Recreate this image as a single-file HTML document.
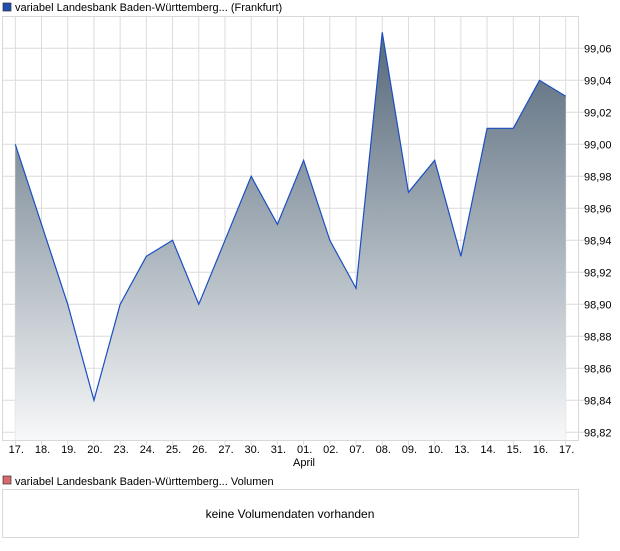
<!DOCTYPE html>
<html><head><meta charset="utf-8"><style>
body{margin:0;background:#fff;width:620px;height:546px;overflow:hidden;font-family:"Liberation Sans",sans-serif;}
</style></head><body>
<svg width="620" height="546" xmlns="http://www.w3.org/2000/svg" font-family="Liberation Sans, sans-serif" font-size="11">
<defs><linearGradient id="g" x1="0" y1="0" x2="0" y2="1" gradientUnits="objectBoundingBox">
<stop offset="0" stop-color="#56687a"/><stop offset="0.5" stop-color="#a6b0b9"/><stop offset="1" stop-color="#f7f8f9"/></linearGradient></defs>
<rect x="3" y="3" width="8" height="8" fill="#1f4fb0" stroke="#333" stroke-width="0.7"/>
<text x="15" y="11">variabel Landesbank Baden-Württemberg... (Frankfurt)</text>
<g id="grid" stroke="#dcdcdc" stroke-width="1"></g>
<rect x="2.5" y="16.5" width="576" height="424" fill="none" stroke="#d8d8d8"/>
<path id="area" fill="url(#g)"/>
<polyline id="line" fill="none" stroke="#1a4fc0" stroke-width="1.2"/>
<g id="yl" fill="#000"></g>
<g id="xl" fill="#000" text-anchor="middle"></g>
<text x="304" y="466" text-anchor="middle">April</text>
<rect x="3" y="476" width="8" height="8" fill="#d96b6b" stroke="#333" stroke-width="0.7"/>
<text x="15" y="485">variabel Landesbank Baden-Württemberg... Volumen</text>
<rect x="2.5" y="489.5" width="576" height="48" fill="none" stroke="#d8d8d8"/>
<text x="290" y="518" text-anchor="middle" font-size="12">keine Volumendaten vorhanden</text>
</svg>
<script>
var v=[99.00,98.95,98.90,98.84,98.90,98.93,98.94,98.90,98.94,98.98,98.95,98.99,98.94,98.91,99.07,98.97,98.99,98.93,99.01,99.01,99.04,99.03];
var l=["17.","18.","19.","20.","23.","24.","25.","26.","27.","30.","31.","01.","02.","07.","08.","09.","10.","13.","14.","15.","16.","17."];
function X(i){return 15.3+i*26.21}function Y(a){return 48.3+(99.06-a)*1600}
var ns="http://www.w3.org/2000/svg",g=document.getElementById('grid'),s="";
for(var i=0;i<22;i++)s+='<line x1="'+X(i)+'" y1="17" x2="'+X(i)+'" y2="445"/>';
for(var k=0;k<=12;k++){var y=Y(99.06-k*0.02);s+='<line x1="3" y1="'+y+'" x2="584" y2="'+y+'"/>';}
g.innerHTML=s;
var yl="";for(var k=0;k<=12;k++){var val=(99.06-k*0.02).toFixed(2).replace('.',',');yl+='<text x="584" y="'+(Y(99.06-k*0.02)+4)+'">'+val+'</text>';}
document.getElementById('yl').innerHTML=yl;
var xl="";for(var i=0;i<22;i++)xl+='<text x="'+(X(i)+1)+'" y="453">'+l[i]+'</text>';
document.getElementById('xl').innerHTML=xl;
var p=[];for(var i=0;i<22;i++)p.push(X(i)+","+Y(v[i]));
document.getElementById('line').setAttribute('points',p.join(' '));
document.getElementById('area').setAttribute('d','M'+X(0)+',440 L'+p.join(' L')+' L'+X(21)+',440Z');
</script>
</body></html>
